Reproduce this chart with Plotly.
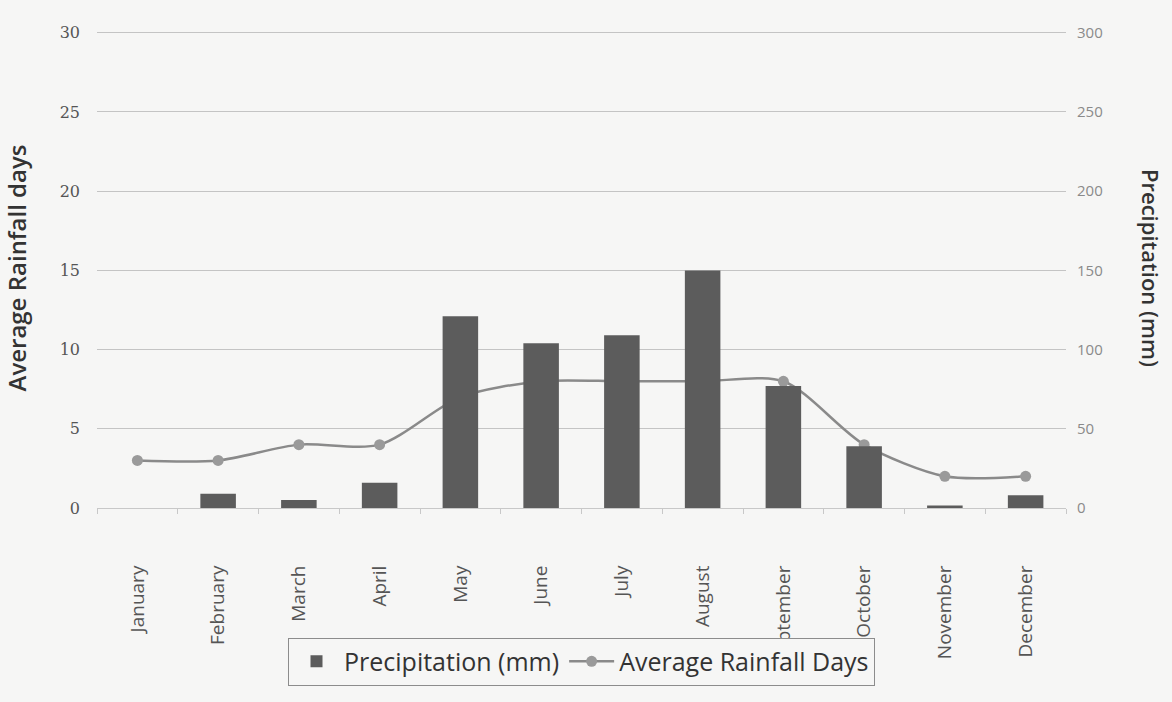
import plotly.graph_objects as go

months = ["January", "February", "March", "April", "May", "June", "July",
          "August", "September", "October", "November", "December"]
precip_mm = [0, 9, 5, 16, 121, 104, 109, 150, 77, 39, 1.5, 8]
rain_days = [3, 3, 4, 4, 7, 8, 8, 8, 8, 4, 2, 2]
left_ticks = [0, 5, 10, 15, 20, 25, 30]
right_ticks = [0, 50, 100, 150, 200, 250, 300]

fig = go.Figure()
fig.add_trace(go.Bar(
    x=months, y=precip_mm, name="Precipitation (mm)", yaxis="y2",
    marker=dict(color="#5c5c5c", line=dict(width=0)),
    width=0.44,
))
fig.add_trace(go.Scatter(
    x=months, y=rain_days, name="Average Rainfall Days", yaxis="y",
    mode="lines+markers",
    line=dict(color="#8a8a8a", width=2.5, shape="spline", smoothing=0.8),
    marker=dict(color="#9a9a9a", size=11, symbol="circle"),
))

fig.update_layout(
    width=1172, height=702,
    margin=dict(l=97, r=106, t=28, b=194),
    paper_bgcolor="#f6f6f5", plot_bgcolor="#f6f6f5",
    font=dict(family="Open Sans", color="#555"),
    showlegend=True,
    legend=dict(
        orientation="h", x=0.5, xanchor="center", y=-0.27, yanchor="top",
        bordercolor="#8c8c8c", borderwidth=1, bgcolor="#f6f6f5",
        font=dict(size=25, color="#333"),
        traceorder="normal", itemwidth=45,
    ),
    xaxis=dict(
        range=[-0.5, 11.5],
        tickangle=-90, tickfont=dict(size=19, color="#555"),
        showgrid=False, showline=True, linecolor="#c8c8c8", linewidth=1,
        ticks="outside", tickson="boundaries", ticklen=5, tickcolor="#c8c8c8",
        ticklabelstandoff=49,
    ),
    yaxis=dict(
        range=[0, 30.3], tickvals=left_ticks,
        tickfont=dict(size=16, color="#555", family="DejaVu Serif"),
        showgrid=True, gridcolor="#c4c4c4", gridwidth=1, zeroline=False,
        ticklabelstandoff=16,
        title=dict(text="Average Rainfall days",
                   font=dict(size=24, color="#333", weight=600), standoff=30),
    ),
    yaxis2=dict(
        range=[0, 303], tickvals=right_ticks, overlaying="y", side="right",
        tickfont=dict(size=15, color="#8a8a8a"),
        showgrid=False, zeroline=False, ticklabelstandoff=10,
    ),
    bargap=0.56,
    annotations=[dict(
        text="Precipitation (mm)", textangle=90, xref="paper", yref="paper",
        x=1.0, xshift=102, y=0.5, showarrow=False,
        font=dict(size=22, color="#333", weight=600),
    )],
)

fig.write_html("out.html", config={"displayModeBar": False},
               post_script="document.body.style.margin='0';document.body.style.background='#f6f6f5';")
